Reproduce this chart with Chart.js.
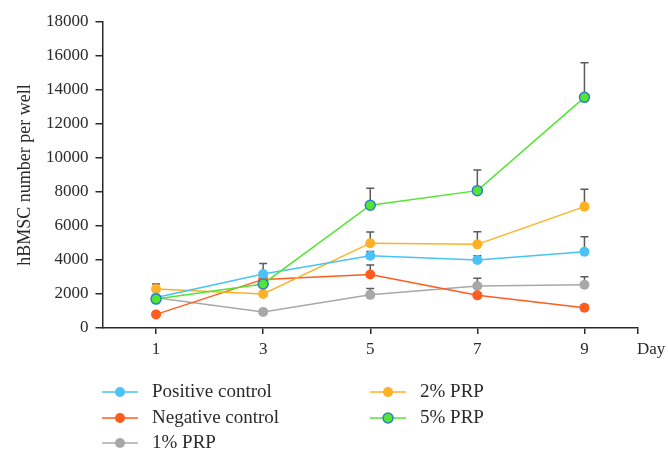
<!DOCTYPE html>
<html><head><meta charset="utf-8">
<script src="https://cdn.jsdelivr.net/npm/chart.js@4.4.0/dist/chart.umd.min.js"></script>
<style>html,body{margin:0;padding:0;background:#fff}#wrap{width:668px;height:465px}</style>
</head><body><div id="wrap"><canvas id="c" width="668" height="465"></canvas></div>
<script>
const days = [1, 3, 5, 7, 9];
const xTickValues = [1, 3, 5, 7, 9, 10];
const xEndLabel = 'Day';
const yTitle = 'hBMSC number per well';
const seriesNames = ['Positive control', 'Negative control', '1% PRP', '2% PRP', '5% PRP'];
const positiveControl = [1800, 3180, 4250, 4000, 4490];
const positiveControlErr = [100, 620, 250, 250, 880];
const negativeControl = [800, 2860, 3150, 1920, 1190];
const negativeControlErr = [100, 200, 550, 150, 150];
const prp1 = [1780, 940, 1950, 2470, 2540];
const prp1Err = [100, 150, 380, 450, 480];
const prp2 = [2290, 2000, 4990, 4920, 7140];
const prp2Err = [300, 150, 660, 740, 1020];
const prp5 = [1700, 2590, 7220, 8080, 13570];
const prp5Err = [100, 150, 1000, 1210, 2040];

const FONT = "'Liberation Serif', 'DejaVu Serif', serif";
const INK = '#2a2a2a';

const styles = [
  {line: '#48C2F7', fill: '#48C2F7', border: '#48C2F7', order: 1},
  {line: '#FF5C1E', fill: '#FF5C1E', border: '#FF5C1E', order: 3},
  {line: '#A8A8A8', fill: '#A8A8A8', border: '#A8A8A8', order: 4},
  {line: '#FDB124', fill: '#FDB124', border: '#FDB124', order: 2},
  {line: '#52E631', fill: '#52E631', border: '#2F7FC8', order: 0}
];
const values = [positiveControl, negativeControl, prp1, prp2, prp5];
const errors = [positiveControlErr, negativeControlErr, prp1Err, prp2Err, prp5Err];

const datasets = seriesNames.map((name, k) => ({
  label: name,
  data: days.map((d, i) => ({x: d, y: values[k][i]})),
  errors: errors[k],
  borderColor: styles[k].line,
  backgroundColor: styles[k].fill,
  pointBackgroundColor: styles[k].fill,
  pointBorderColor: styles[k].border,
  pointBorderWidth: k === 4 ? 1.5 : 0,
  pointRadius: 5,
  borderWidth: 1.5,
  tension: 0,
  order: styles[k].order
}));

const errorBars = {
  id: 'errorBars',
  beforeDatasetsDraw(chart) {
    const ctx = chart.ctx, xs = chart.scales.x, ys = chart.scales.y;
    ctx.save();
    ctx.strokeStyle = '#5a5a5a';
    ctx.lineWidth = 1.5;
    chart.data.datasets.forEach(ds => {
      ds.data.forEach((p, i) => {
        const e = ds.errors[i];
        const x = xs.getPixelForValue(p.x);
        const y0 = ys.getPixelForValue(p.y);
        const y1 = ys.getPixelForValue(p.y + e);
        ctx.beginPath();
        ctx.moveTo(x, y0); ctx.lineTo(x, y1);
        ctx.moveTo(x - 4, y1); ctx.lineTo(x + 4, y1);
        ctx.stroke();
      });
    });
    ctx.restore();
  }
};

const customLegend = {
  id: 'customLegend',
  afterDraw(chart) {
    const ctx = chart.ctx;
    const slots = [[102, 392], [102, 418], [102, 443], [370, 392], [370, 418]];
    ctx.save();
    chart.data.datasets.forEach((ds, k) => {
      const [x, y] = slots[k];
      ctx.strokeStyle = ds.borderColor;
      ctx.lineWidth = 1.5;
      ctx.beginPath(); ctx.moveTo(x, y); ctx.lineTo(x + 36, y); ctx.stroke();
      ctx.beginPath(); ctx.arc(x + 18, y, 5, 0, Math.PI * 2);
      ctx.fillStyle = ds.pointBackgroundColor; ctx.fill();
      if (ds.pointBorderWidth) { ctx.lineWidth = ds.pointBorderWidth; ctx.strokeStyle = ds.pointBorderColor; ctx.stroke(); }
      ctx.fillStyle = INK;
      ctx.font = "19px " + FONT;
      ctx.textBaseline = 'middle';
      ctx.textAlign = 'left';
      ctx.fillText(ds.label, x + 50, y);
    });
    const xs = chart.scales.x;
    ctx.font = "17px " + FONT;
    ctx.textAlign = 'left';
    ctx.fillText(xEndLabel, xs.getPixelForValue(10) - 1, 350);
    ctx.restore();
  }
};

new Chart(document.getElementById('c'), {
  type: 'line',
  data: {datasets},
  options: {
    responsive: false,
    animation: false,
    layout: {padding: {top: 22, right: 30, left: 0, bottom: 0}},
    plugins: {legend: {display: false}, tooltip: {enabled: false}},
    scales: {
      x: {
        type: 'linear', min: 0, max: 10,
        afterBuildTicks: s => { s.ticks = xTickValues.map(v => ({value: v})); },
        afterFit: s => { s.height = 137; },
        ticks: {
          font: {family: FONT, size: 17}, color: INK, padding: 5,
          callback: v => (v === 10 ? '' : String(v))
        },
        grid: {drawOnChartArea: false, tickLength: 6, color: INK, lineWidth: 1.5},
        border: {color: INK, width: 1.5}
      },
      y: {
        min: 0, max: 18000,
        afterFit: s => { s.width = 102.5; },
        ticks: {stepSize: 2000, font: {family: FONT, size: 17}, color: INK, padding: 7,
          callback: v => String(v)},
        grid: {drawOnChartArea: false, tickLength: 7, color: INK, lineWidth: 1.5},
        border: {color: INK, width: 1.5},
        title: {display: true, text: yTitle, font: {family: FONT, size: 18}, color: INK, padding: {top: 14, bottom: 0}}
      }
    }
  },
  plugins: [errorBars, customLegend]
});
</script></body></html>
